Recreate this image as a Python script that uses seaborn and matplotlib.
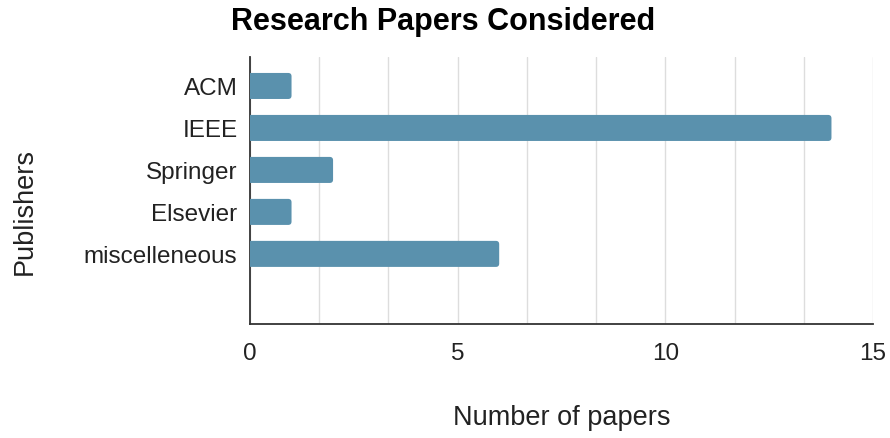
import numpy as np
import pandas as pd
import matplotlib
matplotlib.use("Agg")
import matplotlib.pyplot as plt
import seaborn as sns
from matplotlib.patches import FancyBboxPatch

publishers = ["ACM", "IEEE", "Springer", "Elsevier", "miscelleneous"]
papers = [1, 14, 2, 1, 6]
x_major_ticks = [0, 5, 10, 15]

df = pd.DataFrame({"Publishers": publishers, "Number of papers": papers})

sns.set_theme(style="white")
plt.rcParams["font.family"] = ["Liberation Sans", "DejaVu Sans"]

fig = plt.figure(figsize=(8.9, 4.39), dpi=100)
ax = fig.add_axes([250 / 890, 1 - 325 / 439, 623 / 890, 267 / 439])

bar_color = "#5a91ad"
sns.barplot(data=df, x="Number of papers", y="Publishers", orient="h",
            color=bar_color, width=0.62, ax=ax, saturation=1)

# replace bars with slightly rounded ones
for p in list(ax.patches):
    x0, y0 = p.get_x(), p.get_y()
    w, h = p.get_width(), p.get_height()
    p.set_visible(False)
    fb = FancyBboxPatch((x0 - 0.3, y0), w + 0.3, h,
                        boxstyle="round,pad=0,rounding_size=0.08",
                        mutation_aspect=1.0, facecolor=bar_color,
                        edgecolor="none", zorder=3)
    ax.add_patch(fb)

ax.set_xlim(0, 15)
ax.set_ylim(5.67, -0.69)
ax.set_xticks(x_major_ticks)
ax.set_xticks(np.arange(0, 15.01, 5 / 3), minor=True)
ax.grid(axis="x", which="both", color="#dddddd", linewidth=1.0, zorder=0)
ax.set_axisbelow(True)

for s in ["top", "right"]:
    ax.spines[s].set_visible(False)
for s in ["left", "bottom"]:
    ax.spines[s].set_color("#333333")
    ax.spines[s].set_linewidth(1.3)
ax.spines["left"].set_zorder(2)

ax.tick_params(axis="x", which="both", length=0, pad=13, labelsize=17.5, colors="#222222")
ax.tick_params(axis="y", length=0, pad=9, labelsize=17.5, colors="#222222")

ax.set_xlabel("")
ax.set_ylabel("")
fig.text(562 / 890, 1 - 418 / 439, "Number of papers", ha="center", va="center",
         fontsize=19.5, color="#222222")
fig.text(25 / 890, 1 - 212 / 439, "Publishers", ha="center", va="center",
         rotation=90, fontsize=19.5, color="#222222")

fig.text(443 / 890, 1 - 22 / 439, "Research Papers Considered", ha="center",
         va="center", fontsize=22, fontweight="bold", color="#000000")

fig.savefig("out.png", dpi=100)
